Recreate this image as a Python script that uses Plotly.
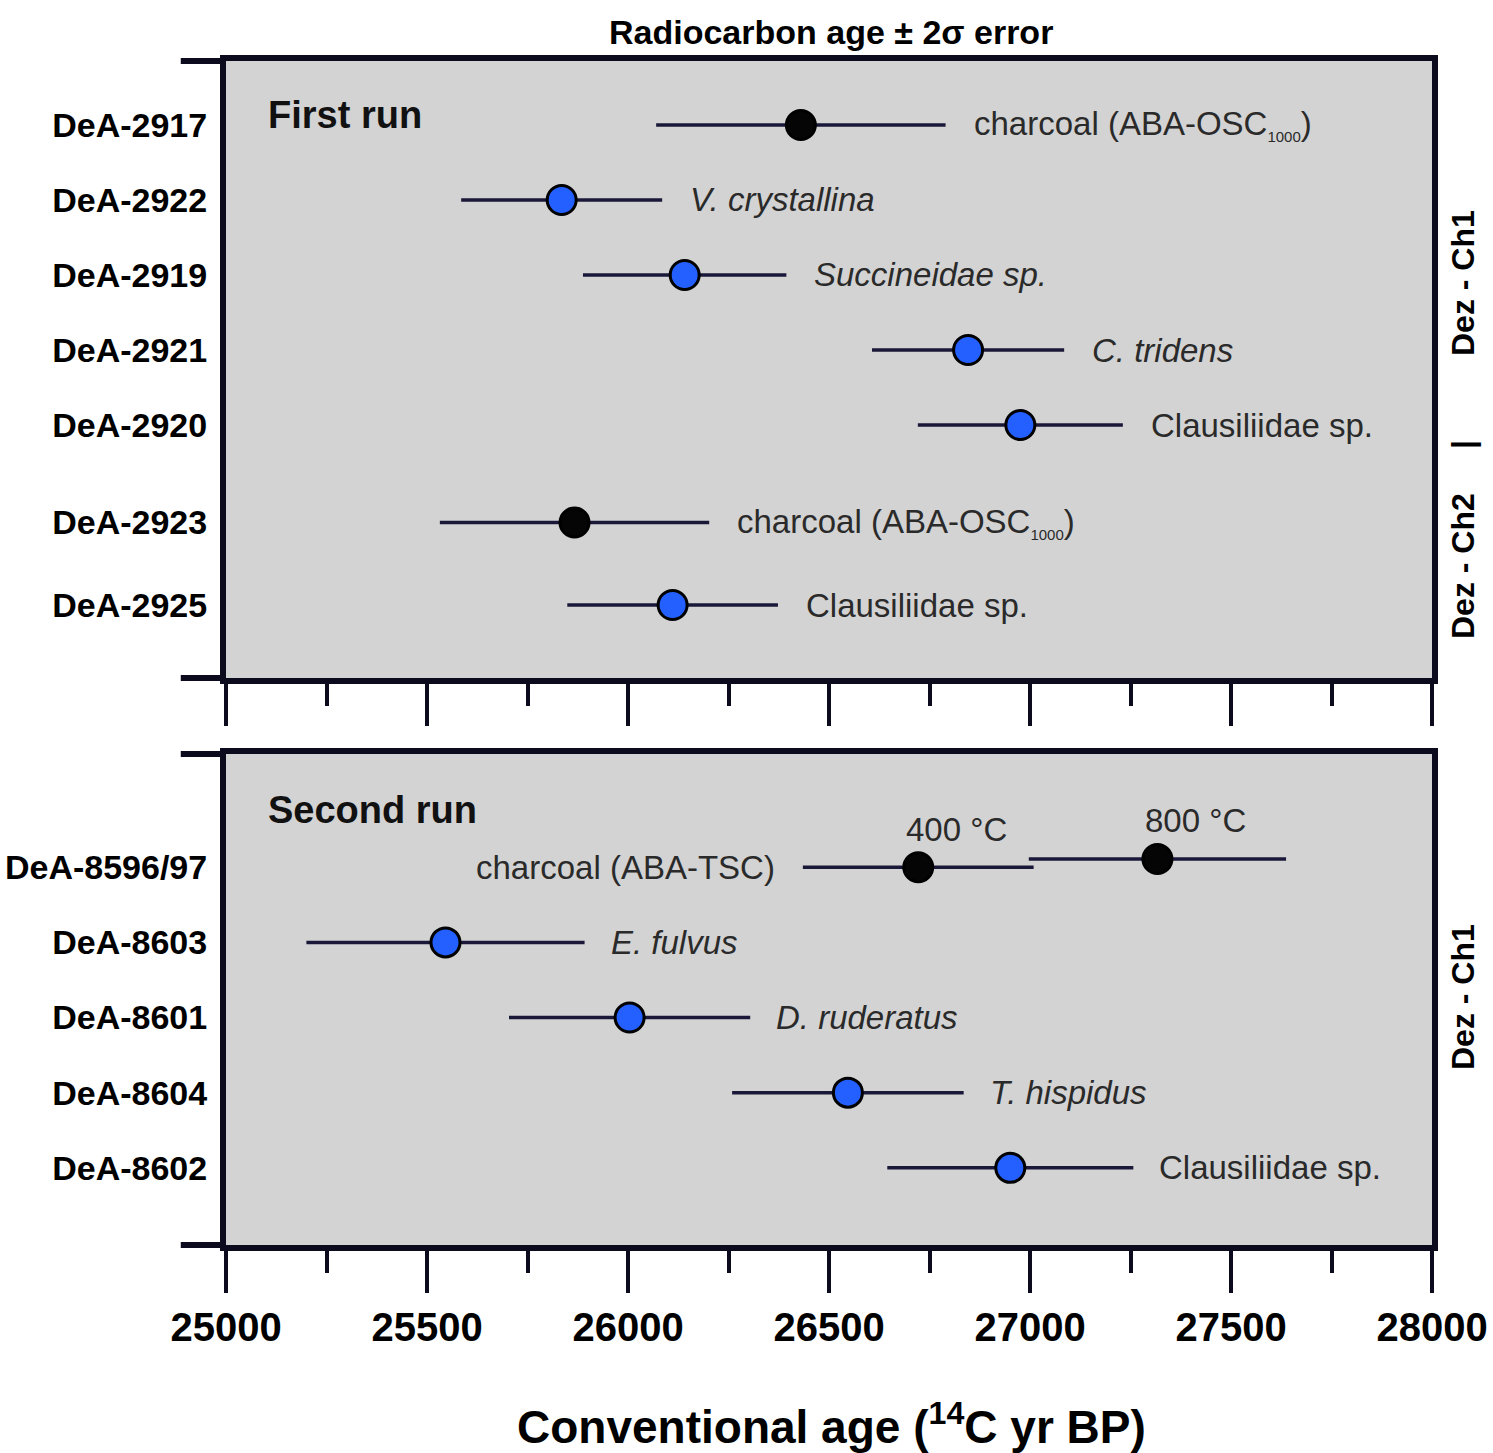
import plotly.graph_objects as go

# ---------------- data ----------------
top_labels = ["DeA-2917", "DeA-2922", "DeA-2919", "DeA-2921", "DeA-2920", "DeA-2923", "DeA-2925"]
top_rows = [1, 2, 3, 4, 5, 6.3, 7.4]
top_age = [26430, 25835, 26141, 26846, 26976, 25867, 26111]
top_err = [360, 250, 253, 239, 255, 335, 262]
top_type = ["charcoal", "shell", "shell", "shell", "shell", "charcoal", "shell"]
SUB = '<sub><span style="font-size:15px">1000</span></sub>'
top_text = ["charcoal (ABA-OSC" + SUB + ")", "<i>V. crystallina</i>", "<i>Succineidae sp.</i>",
            "<i>C. tridens</i>", "Clausiliidae sp.", "charcoal (ABA-OSC" + SUB + ")", "Clausiliidae sp."]

bot_labels = ["DeA-8596/97", "DeA-8603", "DeA-8601", "DeA-8604", "DeA-8602"]
bot_label_rows = [1, 2, 3, 4, 5]
bot_rows = [1, 0.89, 2, 3, 4, 5]
bot_age = [26722, 27317, 25546, 26004, 26547, 26951]
bot_err = [287, 320, 346, 300, 288, 306]
bot_type = ["charcoal", "charcoal", "shell", "shell", "shell", "shell"]
bot_text = ["400 °C", "800 °C", "<i>E. fulvus</i>", "<i>D. ruderatus</i>", "<i>T. hispidus</i>", "Clausiliidae sp."]
bot_charcoal_text = "charcoal (ABA-TSC)"

x_ticks = [25000, 25500, 26000, 26500, 27000, 27500, 28000]
x_ticktext = ["25000", "25500", "26000", "26500", "27000", "27500", "28000"]

# ---------------- style ----------------
FONT = "Liberation Sans"
LINE = "#0c0b1e"
ERR = "#1a1838"
BLUE = "#2360ff"
GRAY = "#d3d3d3"
colors = {"charcoal": "#050505", "shell": BLUE}

fig = go.Figure()

def add_points(rows, ages, errs, types, xa, ya):
    for r, a, e, t in zip(rows, ages, errs, types):
        fig.add_trace(go.Scatter(
            x=[a], y=[r], mode="markers", xaxis=xa, yaxis=ya,
            marker=dict(size=29, color=colors[t], line=dict(color="#000000", width=3)),
            error_x=dict(type="data", array=[e], symmetric=True, width=0, thickness=3.5, color=ERR),
            showlegend=False, hoverinfo="x+y"))

add_points(top_rows, top_age, top_err, top_type, "x", "y")
add_points(bot_rows, bot_age, bot_err, bot_type, "x2", "y2")

ann = []
lab_font = dict(family=FONT, size=33, color="#2a2a2a")
for r, a, e, t in zip(top_rows, top_age, top_err, top_text):
    ann.append(dict(x=a + e, y=r, xref="x", yref="y", text=t, showarrow=False,
                    xanchor="left", yanchor="middle", xshift=26, font=lab_font))
for i, (r, a, e, t) in enumerate(zip(bot_rows, bot_age, bot_err, bot_text)):
    if i < 2:
        ann.append(dict(x=a, y=r, xref="x2", yref="y2", text=t, showarrow=False,
                        xanchor="left", yanchor="middle", xshift=-14, yshift=38, font=lab_font))
    else:
        ann.append(dict(x=a + e, y=r, xref="x2", yref="y2", text=t, showarrow=False,
                        xanchor="left", yanchor="middle", xshift=24, font=lab_font))
ann.append(dict(x=bot_age[0] - bot_err[0], y=bot_rows[0], xref="x2", yref="y2", text=bot_charcoal_text,
                showarrow=False, xanchor="right", yanchor="middle", xshift=-26, font=lab_font))

title_font = dict(family=FONT, size=38, color="#111111", weight="bold")
ann.append(dict(x=0.033, y=0.912, xref="x domain", yref="y domain", text="First run", showarrow=False,
                xanchor="left", yanchor="middle", font=title_font))
ann.append(dict(x=0.033, y=0.886, xref="x2 domain", yref="y2 domain", text="Second run", showarrow=False,
                xanchor="left", yanchor="middle", font=title_font))

ann.append(dict(x=831 / 1493, y=1 - 32 / 1453, xref="paper", yref="paper",
                text="Radiocarbon age ± 2σ error", showarrow=False, xanchor="center", yanchor="middle",
                font=dict(family=FONT, size=34, color="#000000", weight="bold")))
ann.append(dict(x=831 / 1493, y=1 - 1424 / 1453, xref="paper", yref="paper",
                text="Conventional age (<sup>14</sup>C yr BP)", showarrow=False, xanchor="center", yanchor="middle",
                font=dict(family=FONT, size=46, color="#000000", weight="bold")))

side_font = dict(family=FONT, size=32, color="#000000", weight="bold")
sx = 1463 / 1493
ann.append(dict(x=sx, y=1 - 283 / 1453, xref="paper", yref="paper", text="Dez - Ch1", textangle=-90,
                showarrow=False, xanchor="center", yanchor="middle", font=side_font))
ann.append(dict(x=sx, y=1 - 445 / 1453, xref="paper", yref="paper", text="|", textangle=-90,
                showarrow=False, xanchor="center", yanchor="middle", font=side_font))
ann.append(dict(x=sx, y=1 - 566 / 1453, xref="paper", yref="paper", text="Dez - Ch2", textangle=-90,
                showarrow=False, xanchor="center", yanchor="middle", font=side_font))
ann.append(dict(x=sx, y=1 - 997 / 1453, xref="paper", yref="paper", text="Dez - Ch1", textangle=-90,
                showarrow=False, xanchor="center", yanchor="middle", font=side_font))

# left tick stubs at panel top/bottom
shapes = []
for xr, yr in [("x domain", "y domain"), ("x2 domain", "y2 domain")]:
    for yy in [0, 1]:
        shapes.append(dict(type="line", xref=xr, yref=yr, x0=-0.0375, x1=0, y0=yy, y1=yy,
                           line=dict(color=LINE, width=6)))

xdom = [226 / 1493, 1432 / 1493]
xcommon = dict(range=[25000, 28000], domain=xdom, showgrid=False, zeroline=False, automargin=False,
               showline=True, linecolor=LINE, linewidth=6, mirror=True,
               tickmode="array", tickvals=x_ticks, ticktext=x_ticktext,
               ticks="outside", ticklen=42, tickwidth=3.5, tickcolor=LINE,
               minor=dict(dtick=250, tick0=25000, ticks="outside", ticklen=22, tickwidth=3.5,
                          tickcolor=LINE, showgrid=False))
ycommon = dict(showgrid=False, zeroline=False, showline=True, linecolor=LINE, linewidth=6, mirror=True,
               automargin=False, ticks="",
               tickfont=dict(family=FONT, size=34, color="#000000", weight="bold"),
               tickmode="array", ticklabelstandoff=6)

fig.update_layout(
    width=1493, height=1453, margin=dict(l=0, r=0, t=0, b=0),
    paper_bgcolor="white", plot_bgcolor=GRAY, showlegend=False,
    xaxis=dict(xcommon, anchor="y", showticklabels=False),
    yaxis=dict(ycommon, domain=[1 - 678 / 1453, 1 - 61 / 1453], range=[8.373, 0.147], anchor="x",
               tickvals=top_rows, ticktext=top_labels),
    xaxis2=dict(xcommon, anchor="y2", showticklabels=True, ticklabelstandoff=0,
                tickfont=dict(family=FONT, size=40, color="#000000", weight="bold")),
    yaxis2=dict(ycommon, domain=[1 - 1245 / 1453, 1 - 754 / 1453], range=[6.027, -0.507], anchor="x2",
                tickvals=bot_label_rows, ticktext=bot_labels),
    annotations=ann, shapes=shapes,
)

fig.write_html("out.html")
